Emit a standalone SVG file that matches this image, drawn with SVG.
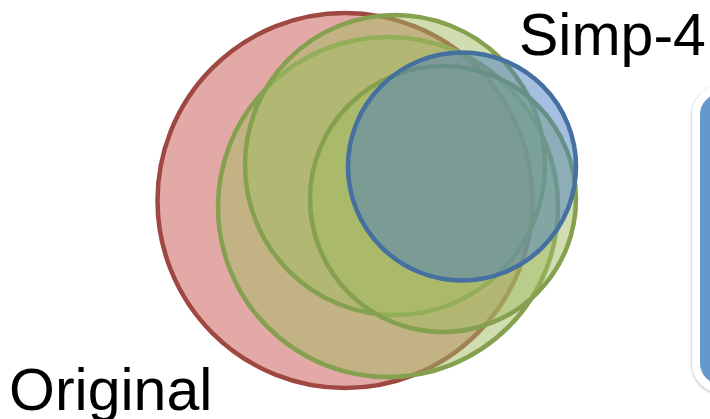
<svg xmlns="http://www.w3.org/2000/svg" width="710" height="419" viewBox="0 0 710 419">
  <defs>
    <style>
      .lbl { font-family: "Liberation Sans", Arial, sans-serif; font-size: 59px; fill: #000; }
      .red { fill: #c5534d; fill-opacity: 0.5; stroke: #9f4842; stroke-width: 4.5; }
      .green { fill: #a1bb61; fill-opacity: 0.5; stroke: #85a04f; stroke-width: 4.5; }
      .blue { fill: #4a80c0; fill-opacity: 0.5; stroke: #46709f; stroke-width: 4.5; }
      .panel { fill: #6399cc; stroke: #ffffff; stroke-width: 8; }
    </style>
    <filter id="shadow" x="-20%" y="-10%" width="140%" height="120%">
      <feDropShadow dx="0" dy="1" stdDeviation="1.5" flood-color="#000" flood-opacity="0.35"/>
    </filter>
  </defs>
  <rect width="710" height="419" fill="#ffffff"/>
  <g id="original"><circle class="red" cx="345" cy="200.5" r="187.5"/></g>
  <g id="simp-1"><circle class="green" cx="388" cy="207" r="170"/></g>
  <g id="simp-2"><circle class="green" cx="395" cy="165" r="150"/></g>
  <g id="simp-3"><circle class="green" cx="443" cy="199" r="133"/></g>
  <g id="simp-4"><circle class="blue" cx="462" cy="166.5" r="114"/></g>
  <g id="panel"><rect class="panel" x="696" y="89" width="80" height="300" rx="26" ry="26" filter="url(#shadow)"/></g>
  <g id="labels">
    <text class="lbl" x="519" y="55">Simp-4</text>
    <text class="lbl" x="9" y="410">Original</text>
  </g>
</svg>
